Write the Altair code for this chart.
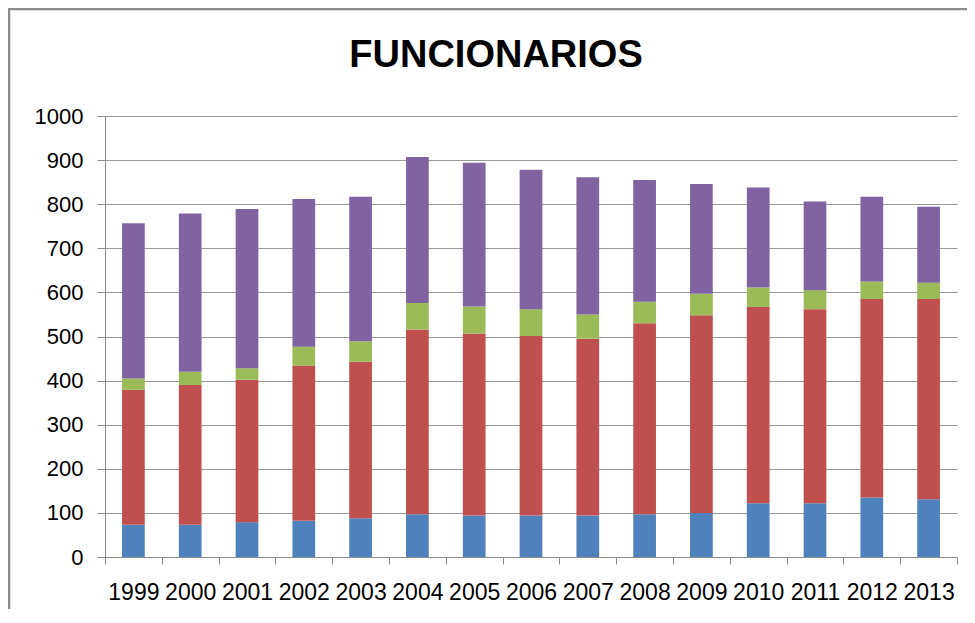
import altair as alt
import pandas as pd

years = ["1999", "2000", "2001", "2002", "2003", "2004", "2005", "2006",
         "2007", "2008", "2009", "2010", "2011", "2012", "2013"]
series = ["A", "B", "C", "D"]
colors = ["#4F81BD", "#C0504D", "#9BBB59", "#8064A2"]
title_text = "FUNCIONARIOS"

# segment values (stacked bottom to top)
blue = [73, 73, 79, 82, 88, 97, 94, 94, 94, 97, 100, 122, 122, 135, 131]
red = [306, 317, 323, 352, 355, 419, 413, 407, 401, 433, 448, 445, 440, 450, 454]
green = [26, 30, 26, 43, 46, 60, 61, 61, 55, 49, 49, 44, 43, 40, 37]
purple = [352, 359, 361, 335, 328, 331, 326, 316, 311, 276, 249, 227, 201, 192, 172]

rows = []
for i, y in enumerate(years):
    for k, (name, vals) in enumerate(zip(series, [blue, red, green, purple])):
        rows.append({"year": y, "serie": name, "order": k, "value": vals[i]})
df = pd.DataFrame(rows)

bars = alt.Chart(df).mark_bar(width=alt.RelativeBandSize(0.4)).encode(
    x=alt.X("year:N", sort=years,
            scale=alt.Scale(paddingInner=0, paddingOuter=0),
            axis=alt.Axis(title=None, labelAngle=0, tickBand="extent",
                          labelFont="Liberation Sans", labelFontSize=23,
                          labelColor="#000000", labelPadding=17,
                          tickSize=7, tickColor="#8c8c8c", domainColor="#8c8c8c",
                          labelOverlap=False, grid=False)),
    y=alt.Y("value:Q", stack="zero",
            scale=alt.Scale(domain=[0, 1000], nice=False),
            axis=alt.Axis(title=None, values=list(range(0, 1001, 100)), format="d",
                          labelFont="Liberation Sans", labelFontSize=22,
                          labelColor="#000000", labelPadding=14,
                          tickSize=8, tickColor="#8c8c8c", domainColor="#8c8c8c",
                          gridColor="#9a9a9a", gridWidth=1.2)),
    color=alt.Color("serie:N", scale=alt.Scale(domain=series, range=colors), legend=None),
    order=alt.Order("order:Q", sort="ascending"),
)

frame = alt.Chart(pd.DataFrame({"a": [0]})).mark_rect(
    fillOpacity=0, stroke="#8c8c8c", strokeWidth=2.5, clip=False
).encode(
    x=alt.value(-96), x2=alt.value(1000),
    y=alt.value(-107), y2=alt.value(600),
)

title = alt.Chart(pd.DataFrame({"t": [title_text]})).mark_text(
    font="Liberation Sans", fontSize=38, fontWeight="bold", color="#000000",
    align="center", baseline="alphabetic", clip=False
).encode(
    text="t:N", x=alt.value(391), y=alt.value(-49),
)

chart = alt.layer(frame, bars, title).properties(
    width=852, height=441,
    padding={"left": 97, "top": 108, "right": 10, "bottom": 52},
    autosize="none",
).configure_view(stroke=None)

chart.save("out.html", embed_options={"renderer": "svg", "actions": False})
